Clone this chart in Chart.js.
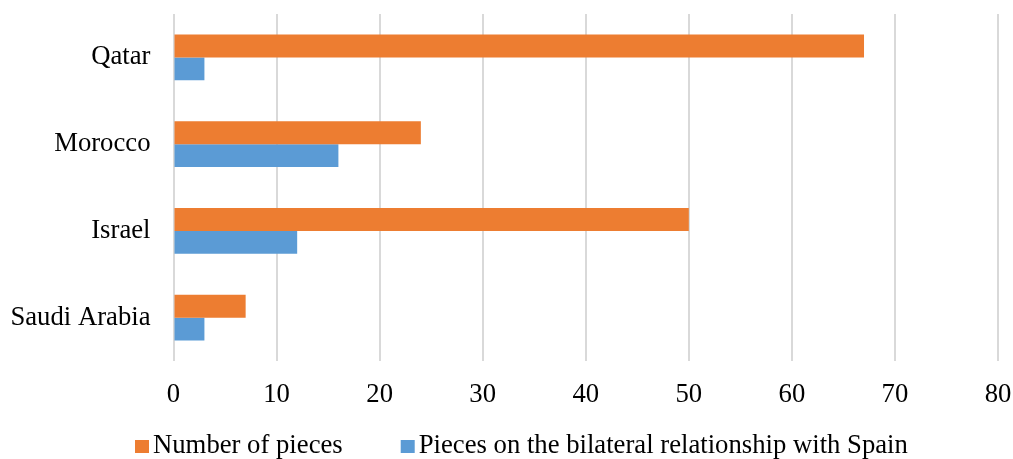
<!DOCTYPE html>
<html>
<head>
<meta charset="utf-8">
<script src="https://cdn.jsdelivr.net/npm/chart.js@4"></script>
<style>
  html, body { margin: 0; padding: 0; background: #fff; }
  #wrap { width: 1013px; height: 459px; }
</style>
</head>
<body>
<div id="wrap"><canvas id="c" width="1013" height="459"></canvas></div>
<script>
const categories = ["Qatar", "Morocco", "Israel", "Saudi Arabia"];
const numberOfPieces = [67, 24, 50, 7];
const bilateralPieces = [3, 16, 12, 3];
const seriesNames = ["Number of pieces", "Pieces on the bilateral relationship with Spain"];
const xTicks = [0, 10, 20, 30, 40, 50, 60, 70, 80];

const FONT = "'Liberation Serif', 'Times New Roman', serif";
const FONT_SIZE = 26.7;

// Legend drawn in a single row under the axis, square swatch + label per dataset
const bottomLegend = {
  id: "bottomLegend",
  afterDraw(chart) {
    const ctx = chart.ctx;
    ctx.save();
    ctx.font = FONT_SIZE + "px " + FONT;
    ctx.textAlign = "left";
    ctx.textBaseline = "alphabetic";
    const baseline = 453;
    let x = 135;
    chart.data.datasets.forEach((ds) => {
      ctx.fillStyle = ds.backgroundColor;
      ctx.fillRect(x, baseline - 13, 14, 13);
      const tx = x + 18;
      ctx.fillStyle = "#000";
      ctx.fillText(ds.label, tx, baseline);
      x = tx + ctx.measureText(ds.label).width + 58;
    });
    ctx.restore();
  }
};

new Chart(document.getElementById("c"), {
  type: "bar",
  data: {
    labels: categories,
    datasets: [
      { label: seriesNames[0], data: numberOfPieces, backgroundColor: "#ED7D31", borderWidth: 0 },
      { label: seriesNames[1], data: bilateralPieces, backgroundColor: "#5B9BD5", borderWidth: 0 }
    ]
  },
  plugins: [bottomLegend],
  options: {
    indexAxis: "y",
    responsive: false,
    animation: false,
    layout: { padding: { left: 0, right: 15, top: 14, bottom: 0 } },
    categoryPercentage: 0.53,
    barPercentage: 1.0,
    plugins: {
      legend: { display: false },
      tooltip: { enabled: false }
    },
    scales: {
      x: {
        min: xTicks[0],
        max: xTicks[xTicks.length - 1],
        afterBuildTicks: (axis) => { axis.ticks = xTicks.map(v => ({ value: v })); },
        afterFit: (axis) => { axis.height = 98; axis.paddingLeft = 0; axis.paddingRight = 0; },
        grid: { color: "#d9d9d9", lineWidth: 2, drawTicks: false },
        border: { display: false },
        ticks: { color: "#000", font: { family: FONT, size: FONT_SIZE }, padding: 18, maxRotation: 0 }
      },
      y: {
        afterFit: (axis) => { axis.width = 173.5; axis.paddingTop = 0; axis.paddingBottom = 0; },
        grid: { display: false, drawTicks: false },
        border: { display: false },
        ticks: { color: "#000", font: { family: FONT, size: FONT_SIZE }, padding: 23 }
      }
    }
  }
});
</script>
</body>
</html>
